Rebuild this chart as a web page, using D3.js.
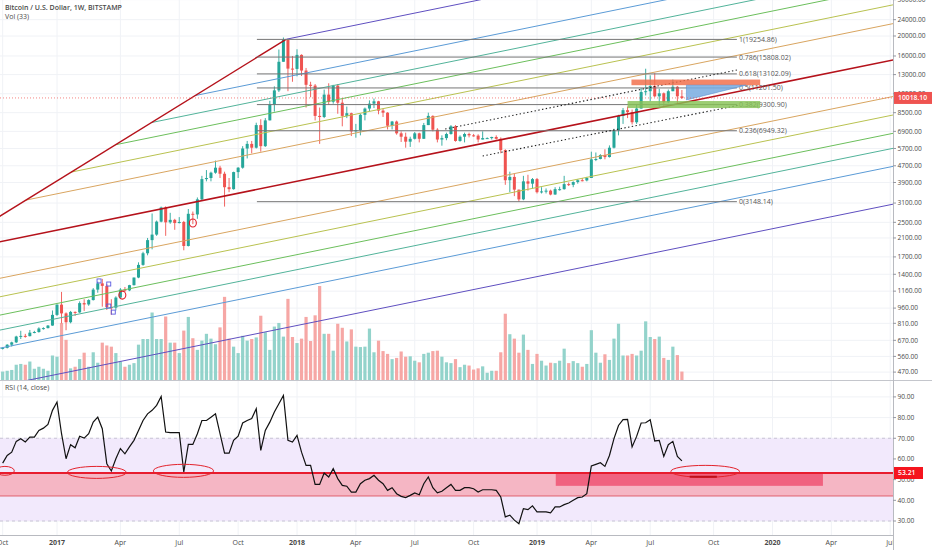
<!DOCTYPE html>
<html>
<head>
<meta charset="utf-8">
<script src="https://cdn.jsdelivr.net/npm/d3@7"></script>
<style>
  html, body { margin: 0; padding: 0; background: #fff; }
  svg { display: block; font-family: "Open Sans", "DejaVu Sans", sans-serif; }
</style>
</head>
<body>
<svg id="chart" width="932" height="550"></svg>
<script>
// weekly BTCUSD (Bitstamp), Oct 2016 -> Aug 2019
const opens = [
  610, 616, 638, 655, 699, 704, 702, 730, 735, 765,
  768, 790, 890, 998, 905, 820, 920, 915, 1015, 1000,
  1050, 1180, 1265, 1230, 970, 965, 1080, 1180, 1170, 1240,
  1350, 1555, 1770, 2050, 2180, 2520, 2950, 2500, 2570, 2480,
  2510, 1920, 2750, 2730, 3230, 4050, 4100, 4350, 4600, 4300,
  3700, 3620, 4380, 4600, 5700, 6000, 5750, 7400, 5850, 7800,
  9300, 10900, 15000, 19200, 13900, 13850, 16200, 13600, 11600, 11500,
  8200, 8100, 10400, 9600, 11500, 9500, 8200, 8450, 6900, 7000,
  8300, 8900, 9400, 9650, 8700, 8500, 7350, 7700, 6750, 6500,
  6150, 6350, 6750, 6350, 7400, 8200, 7030, 6300, 6400, 6700,
  7300, 6200, 6500, 6700, 6600, 6580, 6300, 6400, 6400, 6480,
  6350, 5600, 4000, 4150, 3600, 3230, 3950, 3850, 4050, 3500,
  3530, 3560, 3410, 3620, 3620, 3830, 3800, 3920, 4000, 3990,
  4100, 5050, 5070, 5300, 5180, 5750, 6970, 8200, 8740, 8550,
  7640, 8900, 10700, 10800, 11450, 10200, 10550, 9550, 10800, 11350,
  10200
];
const highs = [
  620, 642, 660, 705, 745, 720, 752, 745, 775, 775,
  795, 935, 1000, 1150, 915, 930, 925, 1035, 1060, 1060,
  1200, 1290, 1330, 1255, 1060, 1095, 1200, 1215, 1245, 1350,
  1600, 1800, 2100, 2760, 2550, 2980, 2990, 2780, 2600, 2650,
  2540, 2900, 2820, 3300, 4200, 4480, 4400, 4980, 4700, 4400,
  4100, 4400, 4630, 5850, 6200, 6200, 7600, 7900, 8000, 9700,
  11400, 17200, 19666, 19250, 16000, 17250, 16300, 14000, 12000, 11700,
  9000, 11000, 11800, 11600, 11700, 9900, 9100, 8500, 7500, 8400,
  9000, 9750, 9950, 9700, 8900, 8550, 7750, 7780, 6900, 6800,
  6500, 6850, 6800, 7580, 8500, 8250, 7150, 6600, 6800, 7400,
  7400, 6600, 6800, 6800, 6700, 6680, 6900, 6450, 6500, 6600,
  6450, 5650, 4400, 4300, 3600, 4200, 4250, 4100, 4100, 3700,
  3650, 3600, 3700, 3720, 4200, 3900, 3950, 4050, 4100, 4150,
  5500, 5450, 5350, 5650, 5900, 7100, 8300, 8950, 9100, 8800,
  9300, 11200, 13880, 12900, 13200, 11100, 10650, 11000, 12300, 11450,
  10950
];
const lows = [
  605, 612, 625, 650, 680, 690, 700, 725, 730, 755,
  765, 788, 880, 810, 750, 810, 880, 910, 930, 985,
  1045, 1140, 975, 940, 890, 935, 1065, 1150, 1160, 1235,
  1340, 1540, 1730, 1850, 2150, 2500, 2150, 2460, 2300, 2470,
  1830, 1910, 2450, 2600, 3200, 3950, 3950, 4300, 4100, 2980,
  3500, 3600, 4100, 4550, 5100, 5400, 5700, 5500, 5800, 7800,
  8600, 10700, 15000, 10800, 12000, 12750, 12800, 9000, 10100, 7800,
  6000, 8000, 9300, 9400, 8400, 7300, 8000, 6550, 6430, 6600,
  7800, 8650, 8950, 8350, 8100, 7050, 7050, 6650, 6130, 5750,
  5800, 6300, 6100, 6350, 7400, 6900, 6100, 5880, 6250, 6650,
  6150, 6150, 6100, 6450, 6500, 6100, 6300, 6350, 6300, 6300,
  5400, 3800, 3500, 3350, 3150, 3200, 3560, 3650, 3450, 3450,
  3450, 3380, 3400, 3560, 3600, 3750, 3700, 3850, 3950, 3950,
  4100, 4950, 5050, 5050, 5150, 5700, 6600, 7500, 8000, 7450,
  7500, 8900, 10300, 9650, 10100, 9100, 9150, 9450, 10800, 9450,
  9900
];
const closes = [
  616, 638, 655, 699, 704, 702, 730, 735, 765, 768,
  790, 890, 998, 905, 820, 920, 915, 1015, 1000, 1050,
  1180, 1265, 1230, 970, 965, 1080, 1180, 1170, 1240, 1350,
  1555, 1770, 2050, 2180, 2520, 2950, 2500, 2570, 2480, 2510,
  1920, 2750, 2730, 3230, 4050, 4100, 4350, 4600, 4300, 3700,
  3620, 4380, 4600, 5700, 6000, 5750, 7400, 5850, 7800, 9300,
  10900, 15000, 19200, 13900, 13850, 16200, 13600, 11600, 11500, 8200,
  8100, 10400, 9600, 11500, 9500, 8200, 8450, 6900, 7000, 8300,
  8900, 9400, 9650, 8700, 8500, 7350, 7700, 6750, 6500, 6150,
  6350, 6750, 6350, 7400, 8200, 7030, 6300, 6400, 6700, 7300,
  6200, 6500, 6700, 6600, 6580, 6300, 6400, 6400, 6480, 6350,
  5600, 4000, 4150, 3600, 3230, 3950, 3850, 4050, 3500, 3530,
  3560, 3410, 3620, 3620, 3830, 3800, 3920, 4000, 3990, 4100,
  5050, 5070, 5300, 5180, 5750, 6970, 8200, 8740, 8550, 7640,
  8900, 10700, 10800, 11450, 10200, 10550, 9550, 10800, 11350, 10200,
  10018.10
];
// volume, thousand BTC
const volumes = [
  21, 23, 25, 38, 40, 38, 46, 28, 33, 28,
  23, 61, 58, 142, 100, 29, 33, 52, 68, 33,
  69, 43, 93, 86, 83, 67, 46, 33, 38, 42,
  88, 102, 102, 168, 102, 102, 158, 93, 93, 67,
  123, 157, 104, 75, 98, 115, 103, 89, 131, 207,
  103, 83, 67, 110, 98, 102, 106, 160, 119, 75,
  133, 142, 108, 202, 107, 92, 103, 157, 97, 161,
  234, 115, 115, 73, 140, 130, 96, 126, 83, 82,
  83, 128, 69, 98, 72, 65, 52, 55, 71, 58,
  59, 48, 44, 65, 68, 72, 73, 58, 44, 42,
  52, 32, 38, 36, 26, 29, 34, 18, 23, 23,
  69, 165, 114, 103, 68, 113, 75, 40, 65, 48,
  36, 43, 42, 48, 78, 42, 47, 42, 33, 40,
  124, 68, 43, 64, 50, 103, 140, 61, 61, 65,
  61, 73, 146, 107, 102, 108, 55, 50, 83, 62,
  21
];
// RSI(14)
const rsi = [
  58, 61.7, 63.3, 68.5, 69.8, 68.2, 70.6, 70.6, 73.8, 74.9,
  76.7, 83.5, 87.5, 72.2, 60.1, 66.9, 65.4, 71, 70.1, 72.2,
  77.8, 80.2, 74.6, 57.7, 54.2, 60.1, 65, 62.5, 65.8, 69,
  73.8, 78.6, 81.8, 83.5, 85.9, 90.2, 73, 72.7, 72.7, 72.7,
  53.7, 67, 67, 72.2, 78.6, 78.6, 80.2, 81.8, 72.2, 62.8,
  62.8, 69, 71, 77.4, 78.6, 79.5, 84.3, 64.1, 73.8, 77.8,
  82.7, 86.7, 90.7, 69, 68.2, 71.4, 63.3, 56.9, 56.9, 47.7,
  47.7, 53.2, 51.3, 55.3, 50.5, 47.2, 46.8, 44, 44, 48,
  49.7, 50.5, 52.1, 49.7, 48, 44.8, 46.1, 43.2, 41.9, 41.3,
  42.4, 43.6, 42.7, 48, 51.3, 46.1, 43.6, 44.4, 46.1, 47.7,
  44.8, 44.8, 46.1, 46.1, 45.6, 44, 45.1, 45.1, 45.1, 44.8,
  41.6, 32, 32.8, 30.4, 28.7, 36, 35.5, 37.3, 34.4, 34.4,
  34.4, 33.9, 36.8, 36.8, 37.9, 38.7, 40, 41.3, 41.6, 43.2,
  56.6, 57.4, 58.2, 56.4, 61.7, 69.8, 76.2, 79, 79.1, 65.8,
  70.9, 77.4, 77.5, 79, 68.7, 69, 61.2, 66.9, 68.5, 61.2,
  59.1
];
const lastRsi = 53.21;

// axis ticks
const priceTicks = [30000, 24000, 20000, 16000, 13000, 10500, 8500, 6900, 5700, 4700, 3900,
  3100, 2500, 2100, 1700, 1400, 1160, 960, 810, 670, 560, 470];
const rsiTicks = [90, 80, 70, 60, 50, 40, 30];
const timeTickDates = ["2016-10-03", "2016-12-26", "2017-04-03", "2017-07-03", "2017-10-02", "2018-01-01",
  "2018-04-02", "2018-07-02", "2018-10-01", "2019-01-07", "2019-04-01", "2019-07-01",
  "2019-10-07", "2020-01-06", "2020-04-06", "2020-07-06"];
const timeTickLabels = ["Oct", "2017", "Apr", "Jul", "Oct", "2018", "Apr", "Jul", "Oct", "2019",
  "Apr", "Jul", "Oct", "2020", "Apr", "Jul"];

// drawings (date, price)
const lineA = [["2016-09-29", 2682], ["2017-12-15", 19250]];
const lineB = [["2016-09-29", 2014], ["2020-07-10", 15300]];
const channelRatios = [0.665, 0.541, 0.441, 0.373, 0.305, 0.2, 1.5, 1.85, 2.27, 2.68, 3.28, 5.0];
const channelColors = ["#d9a560", "#b9c250", "#6cbf5c", "#52b39a", "#5b9bd6", "#5f4fc0",
  "#d9a560", "#b9c250", "#6cbf5c", "#52b39a", "#5b9bd6", "#5f4fc0"];
const fibLevels = ["1", "0.786", "0.618", "0.5", "0.382", "0.236", "0"];
const fibPrices = [19254.86, 15808.02, 13102.09, 11201.50, 9300.90, 6949.32, 3148.14];
const fibSpan = ["2017-10-31", "2019-11-12"];
const dottedLines = [
  [["2018-08-18", 7082], ["2019-11-12", 13685]],
  [["2018-10-15", 5240], ["2019-11-16", 9250]]
];
const boxes = [
  { from: "2019-06-02", to: "2019-12-18", top: 12300, bottom: 11550, color: "#f26b47" },
  { from: "2019-05-27", to: "2019-12-18", top: 9680, bottom: 8950, color: "#86c256" }
];
// projection triangle: corner, lower-left, upper-right
const triangle = [["2019-08-26", 11550], ["2019-08-26", 9800], ["2019-11-26", 11550]];
const redCircles = [["2017-07-24", 2480], ["2017-04-06", 1110]];
const blueSquares = [["2017-03-01", 1300], ["2017-03-16", 1256], ["2017-03-16", 982], ["2017-03-23", 918]];

// RSI drawings
const rsiZone = [53.21, 42.1];
const rsiBox = { from: "2019-02-05", to: "2020-03-24", top: 53.21, bottom: 47.0 };
const rsiEllipses = [
  ["2016-09-22", "2016-10-21", 56.4, 52.1],
  ["2017-01-11", "2017-04-12", 56.4, 50.6],
  ["2017-05-24", "2017-08-25", 57.4, 51.1],
  ["2019-08-02", "2019-11-16", 56.9, 51.1]
];
const rsiStroke = [["2019-08-31", "2019-10-12", 51.4]];

// ---------- layout ----------
const W = 932, H = 550;
const axisX = 893;
const priceBottom = 380, rsiTop = 381, rsiBottom = 535;
const upColor = "#26a69a", downColor = "#ef5350";
const textColor = "#4a4a4a";

const parseDate = d3.utcParse("%Y-%m-%d");
const weeks = d3.utcMonday.range(parseDate("2016-10-03"), parseDate("2019-08-20"));

const x = d3.scaleUtc()
  .domain([parseDate("2018-01-01"), parseDate("2019-01-07")])
  .range([297, 537]);
const y = d3.scaleLog().domain([20000, 470]).range([36, 372.1]);
const yRsi = d3.scaleLinear().domain([30, 90]).range([521, 396.9]);
const yVol = d3.scaleLinear().domain([0, 234]).range([priceBottom, 286]);

const bars = weeks.map((d, i) => ({
  date: d, o: opens[i], h: highs[i], l: lows[i], c: closes[i], v: volumes[i], r: rsi[i]
}));

const svg = d3.select("#chart");
const defs = svg.append("defs");
defs.append("clipPath").attr("id", "clipPrice")
  .append("rect").attr("x", 0).attr("y", 0).attr("width", axisX).attr("height", priceBottom);
defs.append("clipPath").attr("id", "clipRsi")
  .append("rect").attr("x", 0).attr("y", rsiTop).attr("width", axisX).attr("height", rsiBottom - rsiTop);
defs.append("clipPath").attr("id", "clipTime")
  .append("rect").attr("x", 0).attr("y", rsiBottom).attr("width", axisX).attr("height", H - rsiBottom);

// grid
const grid = svg.append("g").attr("stroke", "#f0f2f6").attr("stroke-width", 1);
priceTicks.forEach(p => {
  grid.append("line").attr("x1", 0).attr("x2", axisX).attr("y1", y(p)).attr("y2", y(p));
});
rsiTicks.forEach(v => {
  grid.append("line").attr("x1", 0).attr("x2", axisX).attr("y1", yRsi(v)).attr("y2", yRsi(v));
});
timeTickDates.forEach(d => {
  const xx = x(parseDate(d));
  if (xx < axisX) grid.append("line").attr("x1", xx).attr("x2", xx).attr("y1", 0).attr("y2", rsiBottom);
});

// ---------- price pane ----------
const pane = svg.append("g").attr("clip-path", "url(#clipPrice)");

// volume
pane.append("g").selectAll("rect").data(bars).join("rect")
  .attr("x", d => x(d.date) - 1.6)
  .attr("width", 3.2)
  .attr("y", d => yVol(d.v))
  .attr("height", d => yVol(0) - yVol(d.v))
  .attr("fill", d => d.c >= d.o ? "#93d3cb" : "#f6a7a5");

// candles
const candles = pane.append("g").selectAll("g").data(bars).join("g")
  .attr("stroke", d => d.c >= d.o ? upColor : downColor)
  .attr("fill", d => d.c >= d.o ? upColor : downColor);
candles.append("line")
  .attr("x1", d => x(d.date)).attr("x2", d => x(d.date))
  .attr("y1", d => y(d.h)).attr("y2", d => y(d.l))
  .attr("stroke-width", 0.9);
candles.append("rect")
  .attr("x", d => x(d.date) - 1.5)
  .attr("width", 3)
  .attr("y", d => y(Math.max(d.o, d.c)))
  .attr("height", d => Math.max(1, Math.abs(y(d.o) - y(d.c))))
  .attr("stroke", "none");

// helpers for drawings
const pt = p => [x(parseDate(p[0])), y(p[1])];
function lineThrough(p1, p2) {
  const s = (p2[1] - p1[1]) / (p2[0] - p1[0]);
  return { s, at: xx => p1[1] + s * (xx - p1[0]) };
}

// fib channel, starting on line A and extended to the right
const A = lineThrough(pt(lineA[0]), pt(lineA[1]));
const a0 = pt(lineA[0]);
channelRatios.forEach((r, k) => {
  const c1 = [x(parseDate(lineB[0][0])), y(lineB[0][1] * r)];
  const c2 = [x(parseDate(lineB[1][0])), y(lineB[1][1] * r)];
  const C = lineThrough(c1, c2);
  const xs = (c1[1] - a0[1] + A.s * a0[0] - C.s * c1[0]) / (A.s - C.s);
  pane.append("line")
    .attr("x1", xs).attr("y1", C.at(xs))
    .attr("x2", 900).attr("y2", C.at(900))
    .attr("stroke", channelColors[k]).attr("stroke-width", 1);
});

// trend lines
const B = lineThrough(pt(lineB[0]), pt(lineB[1]));
pane.append("line")
  .attr("x1", -10).attr("y1", B.at(-10)).attr("x2", 900).attr("y2", B.at(900))
  .attr("stroke", "#b5121b").attr("stroke-width", 1.6);
pane.append("line")
  .attr("x1", -10).attr("y1", A.at(-10))
  .attr("x2", pt(lineA[1])[0]).attr("y2", pt(lineA[1])[1])
  .attr("stroke", "#b5121b").attr("stroke-width", 1.4);

// fib retracement
const fx1 = x(parseDate(fibSpan[0])), fx2 = x(parseDate(fibSpan[1]));
fibPrices.forEach((p, i) => {
  pane.append("line")
    .attr("x1", fx1).attr("x2", fx2).attr("y1", y(p)).attr("y2", y(p))
    .attr("stroke", "#767676").attr("stroke-width", 1);
  pane.append("text")
    .attr("x", fx2 + 2).attr("y", y(p)).attr("dy", "0.35em")
    .attr("font-size", 7).attr("fill", "#555")
    .text(`${fibLevels[i]}(${p.toFixed(2)})`);
});

// dotted channel
dottedLines.forEach(l => {
  const p1 = pt(l[0]), p2 = pt(l[1]);
  pane.append("line")
    .attr("x1", p1[0]).attr("y1", p1[1]).attr("x2", p2[0]).attr("y2", p2[1])
    .attr("stroke", "#222").attr("stroke-width", 1.1).attr("stroke-dasharray", "1.4,2.4");
});

// boxes
boxes.forEach(b => {
  pane.append("rect")
    .attr("x", x(parseDate(b.from)))
    .attr("width", x(parseDate(b.to)) - x(parseDate(b.from)))
    .attr("y", y(b.top))
    .attr("height", y(b.bottom) - y(b.top))
    .attr("fill", b.color).attr("fill-opacity", 0.82);
});
pane.append("path")
  .attr("d", d3.line()(triangle.map(pt)) + "Z")
  .attr("fill", "#78abe0").attr("fill-opacity", 0.85)
  .attr("stroke", "#5a8fd0").attr("stroke-width", 0.6);

// small marks
redCircles.forEach(c => {
  const p = pt(c);
  pane.append("ellipse").attr("cx", p[0]).attr("cy", p[1]).attr("rx", 3.5).attr("ry", 4)
    .attr("fill", "none").attr("stroke", "#e0202a").attr("stroke-width", 1.1);
});
blueSquares.forEach(c => {
  const p = pt(c);
  pane.append("rect").attr("x", p[0] - 2).attr("y", p[1] - 2).attr("width", 4).attr("height", 4)
    .attr("fill", "none").attr("stroke", "#5b5be0").attr("stroke-width", 0.9);
});

// last price line
const lastClose = closes[closes.length - 1];
svg.append("line")
  .attr("x1", 0).attr("x2", axisX).attr("y1", y(lastClose)).attr("y2", y(lastClose))
  .attr("stroke", "#ef5350").attr("stroke-opacity", 0.7).attr("stroke-dasharray", "1,2");

// ---------- RSI pane ----------
const rp = svg.append("g").attr("clip-path", "url(#clipRsi)");
rp.append("rect").attr("x", 0).attr("width", axisX)
  .attr("y", yRsi(70)).attr("height", yRsi(30) - yRsi(70))
  .attr("fill", "#f2e9fc");
[70, 30].forEach(v => {
  rp.append("line").attr("x1", 0).attr("x2", axisX).attr("y1", yRsi(v)).attr("y2", yRsi(v))
    .attr("stroke", "#c9c4d6").attr("stroke-dasharray", "3,3");
});
rp.append("rect").attr("x", 0).attr("width", axisX)
  .attr("y", yRsi(rsiZone[0])).attr("height", yRsi(rsiZone[1]) - yRsi(rsiZone[0]))
  .attr("fill", "#f5b6c4");
rp.append("rect")
  .attr("x", x(parseDate(rsiBox.from)))
  .attr("width", x(parseDate(rsiBox.to)) - x(parseDate(rsiBox.from)))
  .attr("y", yRsi(rsiBox.top)).attr("height", yRsi(rsiBox.bottom) - yRsi(rsiBox.top))
  .attr("fill", "#f0627f");
rp.append("line").attr("x1", 0).attr("x2", axisX)
  .attr("y1", yRsi(rsiZone[1])).attr("y2", yRsi(rsiZone[1]))
  .attr("stroke", "#e0606e").attr("stroke-width", 1);
rp.append("line").attr("x1", 0).attr("x2", axisX)
  .attr("y1", yRsi(rsiZone[0])).attr("y2", yRsi(rsiZone[0]))
  .attr("stroke", "#e81c2e").attr("stroke-width", 2);

rp.append("path").datum(bars)
  .attr("d", d3.line().x(d => x(d.date)).y(d => yRsi(d.r)))
  .attr("fill", "none").attr("stroke", "#111").attr("stroke-width", 1.2);

rsiEllipses.forEach(e => {
  const x1 = x(parseDate(e[0])), x2 = x(parseDate(e[1]));
  const y1 = yRsi(e[2]), y2 = yRsi(e[3]);
  rp.append("ellipse")
    .attr("cx", (x1 + x2) / 2).attr("cy", (y1 + y2) / 2)
    .attr("rx", (x2 - x1) / 2).attr("ry", (y2 - y1) / 2)
    .attr("fill", "none").attr("stroke", "#e3232c").attr("stroke-width", 1);
});
rsiStroke.forEach(s => {
  rp.append("line")
    .attr("x1", x(parseDate(s[0]))).attr("x2", x(parseDate(s[1])))
    .attr("y1", yRsi(s[2])).attr("y2", yRsi(s[2]))
    .attr("stroke", "#c0101a").attr("stroke-width", 2);
});

// ---------- frame & axes ----------
svg.append("line").attr("x1", 0).attr("x2", W).attr("y1", priceBottom + 0.5).attr("y2", priceBottom + 0.5)
  .attr("stroke", "#c4c6cc");
svg.append("line").attr("x1", 0).attr("x2", axisX).attr("y1", rsiBottom + 0.5).attr("y2", rsiBottom + 0.5)
  .attr("stroke", "#b8bac0");
svg.append("line").attr("x1", axisX + 0.5).attr("x2", axisX + 0.5).attr("y1", 0).attr("y2", H)
  .attr("stroke", "#b8bac0");

const fmt = d3.format(".2f");
const axisG = svg.append("g").attr("font-size", 6.6).attr("fill", textColor);
priceTicks.forEach(p => {
  axisG.append("line").attr("x1", axisX).attr("x2", axisX + 3).attr("y1", y(p)).attr("y2", y(p))
    .attr("stroke", "#9598a1");
  axisG.append("text").attr("x", axisX + 4.5).attr("y", y(p)).attr("dy", "0.35em").text(fmt(p));
});
rsiTicks.forEach(v => {
  axisG.append("line").attr("x1", axisX).attr("x2", axisX + 3).attr("y1", yRsi(v)).attr("y2", yRsi(v))
    .attr("stroke", "#9598a1");
  axisG.append("text").attr("x", axisX + 4.5).attr("y", yRsi(v)).attr("dy", "0.35em").text(fmt(v));
});

// last value labels
const priceLab = svg.append("g").attr("transform", `translate(${axisX + 1},${y(lastClose)})`);
priceLab.append("rect").attr("x", 0).attr("y", -6).attr("width", W - axisX).attr("height", 12).attr("fill", "#ef5350");
priceLab.append("text").attr("x", 4).attr("dy", "0.35em").attr("font-size", 6.8)
  .attr("font-weight", 600).attr("fill", "#fff").text(fmt(lastClose));
const rsiLab = svg.append("g").attr("transform", `translate(${axisX + 1},${yRsi(lastRsi)})`);
rsiLab.append("rect").attr("x", 0).attr("y", -6).attr("width", 29).attr("height", 12).attr("fill", "#f5141e");
rsiLab.append("text").attr("x", 4).attr("dy", "0.35em").attr("font-size", 6.8)
  .attr("font-weight", 600).attr("fill", "#fff").text(fmt(lastRsi));

// time axis
const tG = svg.append("g").attr("clip-path", "url(#clipTime)")
  .attr("font-size", 7).attr("fill", textColor).attr("text-anchor", "middle");
timeTickDates.forEach((d, i) => {
  tG.append("text").attr("x", x(parseDate(d))).attr("y", 545)
    .attr("font-weight", /^\d{4}$/.test(timeTickLabels[i]) ? 700 : 400)
    .text(timeTickLabels[i]);
});

// titles
const titles = svg.append("g").attr("font-size", 7).attr("fill", textColor);
titles.append("text").attr("x", 5).attr("y", 10).attr("font-weight", 600)
  .text("Bitcoin / U.S. Dollar, 1W, BITSTAMP");
titles.append("text").attr("x", 5).attr("y", 19).text("Vol (33)");
titles.append("text").attr("x", 5).attr("y", 390).text("RSI (14, close)");
</script>
</body>
</html>
